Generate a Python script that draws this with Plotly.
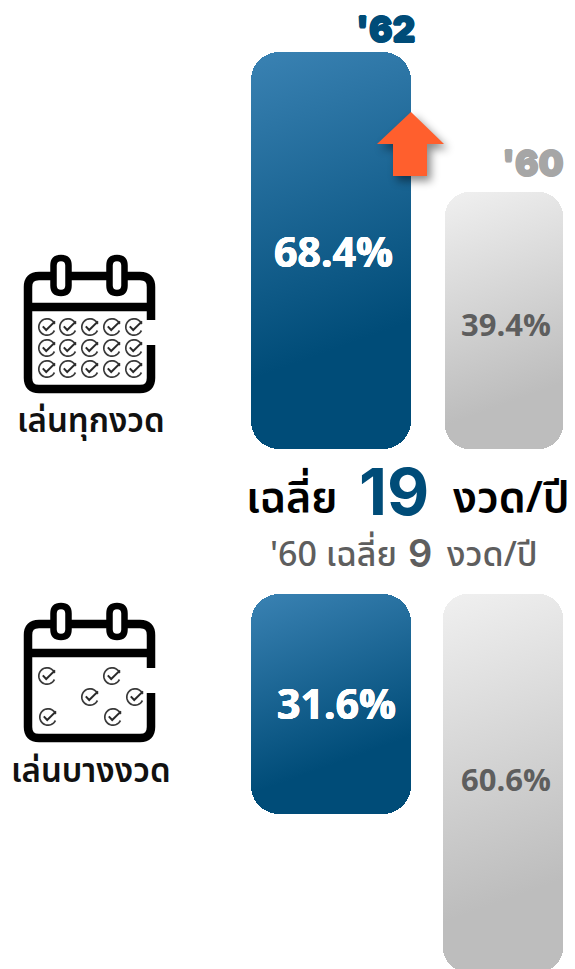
import math
import plotly.graph_objects as go

# ---- data ----
years = ["'62", "'60"]
every_draw_pct = [68.4, 39.4]
some_draw_pct = [31.6, 60.6]
# drawn bar lengths (the infographic's bars are not to scale with the percentages)
every_draw_len = [397, 257]
some_draw_len = [220, 378]
label_every = "เล่นทุกงวด"
label_some = "เล่นบางงวด"
avg_now = "19"
avg_before = "9"

W, H = 575, 969
BLUE, GREY_TXT, GREY_YEAR = "#004c78", "#5e5e5e", "#a6a6a6"
THAI = "Noto Sans Thai, Noto Sans, Inter, sans-serif"
NUM = "Open Sans, sans-serif"
BIG = "Inter, sans-serif"

base_top, base_bottom = 449, 594

fig = go.Figure()


def add_group(lengths, base, direction, name, xs, widths):
    for i in range(2):
        fig.add_trace(go.Bar(
            x=[xs[i]], y=[direction * lengths[i]], base=[base], width=[widths[i]],
            marker=dict(color=BLUE if i == 0 else "#d4d4d4", cornerradius=28 if i == 0 else 24, line_width=0),
            name=f"{name} {years[i]}", showlegend=False, hoverinfo="skip",
            meta="blue" if i == 0 else "grey",
        ))


add_group(every_draw_len, base_top, -1, label_every, [331, 504], [160, 118])
add_group(some_draw_len, base_bottom, 1, label_some, [331, 503], [160, 120])

shapes = []


def rrect(x0, y0, x1, y1, r):
    return (f"M{x0+r},{y0} H{x1-r} Q{x1},{y0} {x1},{y0+r} V{y1-r} Q{x1},{y1} {x1-r},{y1} "
            f"H{x0+r} Q{x0},{y1} {x0},{y1-r} V{y0+r} Q{x0},{y0} {x0+r},{y0} Z")


def add_path(path, color="#000", width=0, fill=None):
    shapes.append(dict(type="path", xref="x", yref="y", path=path, layer="above",
                       line=dict(color=color, width=width),
                       fillcolor=fill if fill else "rgba(0,0,0,0)"))


def check(cx, cy, r=8.2):
    pts = []
    for k in range(0, 31):
        a = math.radians(-20 - k * 10.5)
        pts.append(f"{cx + r * math.cos(a):.2f},{cy + r * math.sin(a):.2f}")
    add_path("M" + " L".join(pts), color="#3a3a3a", width=1.7)
    add_path(f"M{cx-4.2},{cy-0.6} L{cx-0.8},{cy+3} L{cx+8},{cy-5.6}", color="#2a2a2a", width=2)


def calendar(top, bottom, sep, gap0, gap1, ring0, ring1, checks):
    x0, x1 = 28, 151
    r = 11
    add_path(f"M{x1},{gap0} V{top+r} Q{x1},{top} {x1-r},{top} H{x0+r} Q{x0},{top} {x0},{top+r} "
             f"V{bottom-r} Q{x0},{bottom} {x0+r},{bottom} H{x1-r} Q{x1},{bottom} {x1},{bottom-r} V{gap1}",
             width=8.5)
    add_path(f"M{x0},{sep} H{x1}", width=8.5)
    for cx in (61, 117):
        add_path(rrect(cx - 7.5, ring0, cx + 7.5, ring1, 7.5), width=6.5, fill="#fff")
    for cx, cy in checks:
        check(cx, cy)


grid = [(cx, cy) for cy in (327, 348, 369) for cx in (47, 68, 90, 112, 134)]
calendar(276, 389, 307, 320, 345, 258, 293, grid)
calendar(624, 738, 653, 668, 693, 606, 637,
         [(47, 676), (112, 676), (90, 697), (135, 697), (48, 717), (113, 717)])

# orange arrow
add_path("M411,112 L444,144 H427 V176 H393 V144 H377 Z", fill="#ff5f2d")

annotations = []


def thicken(color, d):
    return ",".join(f"{x}px {y}px 0 {color}" for x, y in ((d, 0), (-d, 0), (0, d), (0, -d)))


def text(x, y, s, size, color, family=NUM, weight=700, bold=0):
    annotations.append(dict(x=x, y=y, xref="x", yref="y", text=s, showarrow=False,
                            xanchor="center", yanchor="middle",
                            font=dict(size=size, color=color, family=family, weight=weight,
                                      shadow=thicken(color, bold) if bold else "none")))


text(385, 29, years[0], 35, BLUE, BIG, 900, 0.8)
text(533, 163, years[1], 35, GREY_YEAR, BIG, 900, 0.8)
text(333, 251, f"{every_draw_pct[0]}%", 41, "#fff", bold=0.4)
text(506, 324, f"{every_draw_pct[1]}%", 31, GREY_TXT)
text(336, 703, f"{some_draw_pct[0]}%", 41, "#fff", bold=0.4)
text(506, 779, f"{some_draw_pct[1]}%", 31, GREY_TXT)
text(91, 422, label_every, 33, "#111", THAI, 600)
text(91, 772, label_some, 33, "#111", THAI, 600)
text(292, 498, "เฉลี่ย", 43, "#000", THAI, 600)
text(394, 491, avg_now, 65, BLUE, BIG)
text(511, 498, "งวด/ปี", 43, "#000", THAI, 600)
text(333, 555, "'60 เฉลี่ย", 34, GREY_TXT, THAI, 500)
text(420, 553, avg_before, 38, GREY_TXT, BIG, 600)
text(492, 555, "งวด/ปี", 34, GREY_TXT, THAI, 500)

fig.update_layout(
    width=W, height=H, margin=dict(l=0, r=0, t=0, b=0),
    paper_bgcolor="#fff", plot_bgcolor="#fff",
    barmode="overlay", bargap=0,
    xaxis=dict(range=[0, W], visible=False, fixedrange=True),
    yaxis=dict(range=[H, 0], visible=False, fixedrange=True),
    shapes=shapes, annotations=annotations,
)

post = r"""
document.body.style.margin = '0';
var gd = document.getElementById('{plot_id}');
var svg = gd.querySelector('svg.main-svg');
var NS = 'http://www.w3.org/2000/svg';
var defs = svg.querySelector('defs');
var palettes = {
  blue: [[0,'#3a82b3'],[0.72,'#004c78'],[1,'#004c78']],
  grey: [[0,'#f0f0f0'],[0.78,'#bdbdbd'],[1,'#bdbdbd']]
};
gd.querySelectorAll('.barlayer .trace.bars').forEach(function(t, i){
  var p = t.querySelector('path'); if(!p) return;
  var b = p.getBBox(), a = 20*Math.PI/180;
  var cx = b.x+b.width/2, cy = b.y+b.height/2;
  var len = (Math.abs(b.width*Math.sin(a))+Math.abs(b.height*Math.cos(a)))/2;
  var lg = document.createElementNS(NS,'linearGradient');
  lg.setAttribute('id','barfill'+i);
  lg.setAttribute('gradientUnits','userSpaceOnUse');
  lg.setAttribute('x1',cx-Math.sin(a)*len); lg.setAttribute('y1',cy-Math.cos(a)*len);
  lg.setAttribute('x2',cx+Math.sin(a)*len); lg.setAttribute('y2',cy+Math.cos(a)*len);
  palettes[gd.data[i].meta].forEach(function(s){
    var st = document.createElementNS(NS,'stop');
    st.setAttribute('offset',s[0]); st.setAttribute('stop-color',s[1]); lg.appendChild(st);
  });
  defs.appendChild(lg);
  p.style.fill = 'url(#barfill'+i+')';
});
gd.querySelectorAll('.shapelayer path').forEach(function(p){
  if ((p.style.fill||'').replace(/\s/g,'') === 'rgb(255,95,45)')
    p.style.filter = 'drop-shadow(4px 5px 4px rgba(0,0,0,0.45))';
});
"""
fig.write_html("out.html", post_script=post, config={"displayModeBar": False, "responsive": False})
